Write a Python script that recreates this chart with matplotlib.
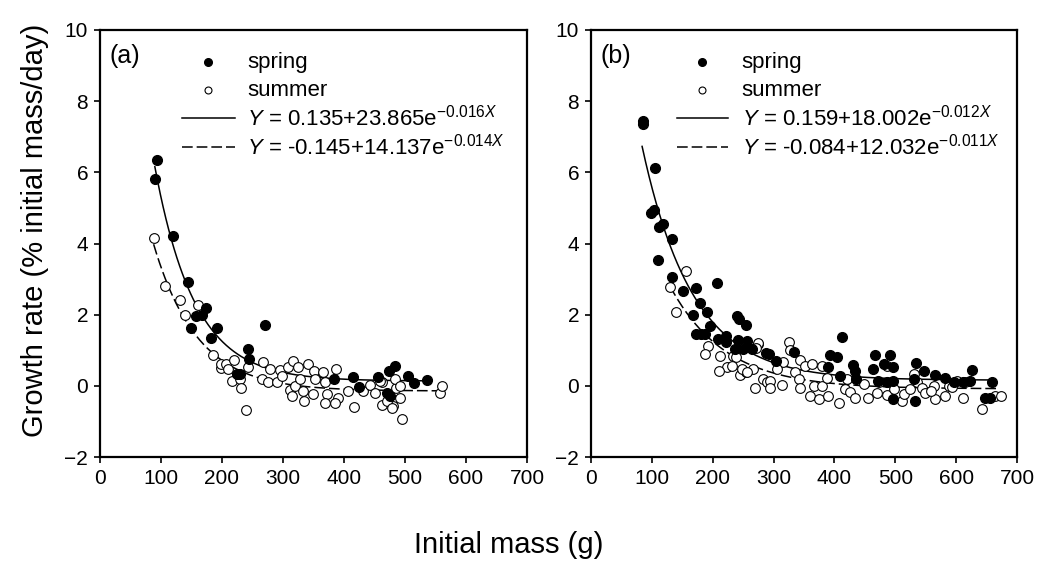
import numpy as np
import matplotlib
matplotlib.use("Agg")
import matplotlib.pyplot as plt

plt.rcParams['font.family'] = ['Liberation Sans', 'DejaVu Sans']
plt.rcParams['mathtext.fontset'] = 'custom'
plt.rcParams['mathtext.rm'] = 'Liberation Sans'
plt.rcParams['mathtext.it'] = 'Liberation Sans:italic'

# panel (a) data
a_spring_x = [93, 90, 119, 145, 174, 157, 168, 150, 192, 182, 270, 243, 245, 224, 229,
              384, 415, 425, 456, 473, 484, 470, 475, 505, 514, 536]
a_spring_y = [6.35, 5.8, 4.2, 2.91, 2.18, 1.97, 2.0, 1.62, 1.62, 1.35, 1.70, 1.03, 0.75, 0.33, 0.33,
              0.19, 0.24, -0.02, 0.24, 0.42, 0.55, -0.19, -0.28, 0.28, 0.09, 0.17]
a_summer_x = [88, 107, 132, 140, 160, 186, 199, 199, 207, 210, 220, 216, 230, 231, 239, 243,
              267, 265, 278, 276, 290, 295, 299, 308, 317, 324, 311, 314, 320, 328, 333, 334,
              341, 351, 352, 350, 366, 369, 372, 369, 387, 390, 385, 407, 416, 432, 443, 451,
              462, 463, 480, 485, 484, 492, 492, 470, 478, 495, 557, 560, 459]
a_summer_y = [4.15, 2.81, 2.42, 2.0, 2.28, 0.88, 0.49, 0.61, 0.6, 0.47, 0.73, 0.14, 0.19, -0.06, -0.68, 0.53,
              0.66, 0.18, 0.47, 0.1, 0.12, 0.45, 0.28, 0.54, 0.7, 0.54, -0.11, -0.28, 0.0, 0.19, -0.14, -0.42,
              0.61, 0.42, 0.19, -0.23, 0.38, 0.1, -0.23, -0.47, 0.47, -0.33, -0.47, -0.14, -0.59, -0.14, 0.02, -0.19,
              0.1, -0.54, -0.56, -0.05, 0.19, 0.0, -0.33, -0.42, -0.61, -0.94, -0.19, 0.0, 0.14]

# panel (b) data
b_spring_x = [85, 86, 106, 99, 104, 112, 118, 133, 110, 133, 152, 172, 207, 179, 191, 168, 196,
              173, 180, 188, 209, 222, 222, 240, 243, 255, 242, 237, 250, 265, 256, 287, 293, 304,
              333, 412, 392, 404, 390, 431, 434, 436, 467, 492, 463, 481, 497, 472, 487, 497, 497,
              534, 530, 547, 532, 566, 582, 626, 623, 612, 659, 656, 648, 596, 410]
b_spring_y = [7.43, 7.35, 6.13, 4.87, 4.94, 4.47, 4.54, 4.12, 3.54, 3.06, 2.67, 2.74, 2.88, 2.34, 2.08, 1.99, 1.69,
              1.45, 1.47, 1.45, 1.31, 1.4, 1.24, 1.97, 1.87, 1.71, 1.29, 1.03, 1.03, 1.03, 1.26, 0.91, 0.89, 0.7,
              0.96, 1.38, 0.86, 0.8, 0.52, 0.58, 0.42, 0.19, 0.86, 0.86, 0.47, 0.61, 0.52, 0.15, 0.12, 0.15, -0.37,
              0.64, 0.19, 0.42, -0.42, 0.3, 0.21, 0.45, 0.14, 0.1, 0.1, -0.33, -0.33, 0.1, 0.28]
b_summer_x = [156, 130, 140, 193, 187, 212, 234, 238, 223, 211, 231, 245, 254, 266, 270, 275, 283,
              289, 274, 271, 326, 327, 344, 248, 256, 294, 294, 314, 316, 305, 336, 341, 352, 363,
              344, 360, 374, 366, 379, 389, 379, 388, 408, 418, 426, 434, 420, 456, 448, 470, 473,
              486, 486, 498, 511, 514, 525, 531, 536, 544, 563, 566, 582, 588, 549, 558, 593, 601,
              615, 612, 643, 664, 673]
b_summer_y = [3.23, 2.79, 2.08, 1.11, 0.89, 0.84, 0.84, 0.8, 0.52, 0.42, 0.57, 0.3, 0.4, 0.47, -0.07, 1.17, 0.19,
              0.1, 1.2, 1.05, 1.22, 1.01, 0.73, 0.47, 0.39, 0.14, -0.05, 0.02, 0.67, 0.47, 0.38, 0.19, 0.56, 0.61,
              -0.05, -0.28, -0.37, 0.0, 0.56, -0.28, 0.0, 0.21, -0.47, -0.09, -0.17, -0.33, 0.19, -0.33, 0.05, -0.2, 0.1,
              0.56, -0.26, -0.09, -0.42, -0.23, -0.09, 0.33, 0.1, -0.05, 0.0, -0.37, -0.28, 0.0, -0.19, -0.14, -0.02, 0.14,
              0.1, -0.33, -0.65, -0.28, -0.28]

# fitted curves: (a, b, k, xmin, xmax)
a_fit_spring = (0.135, 23.865, 0.0153, 90, 540)
a_fit_summer = (-0.145, 14.137, 0.014, 88, 558)
b_fit_spring = (0.159, 18.002, 0.012, 84, 660)
b_fit_summer = (-0.084, 12.032, 0.011, 130, 670)

a_labels = [r'$Y$ = 0.135+23.865e$^{-0.016X}$', r'$Y$ = -0.145+14.137e$^{-0.014X}$']
b_labels = [r'$Y$ = 0.159+18.002e$^{-0.012X}$', r'$Y$ = -0.084+12.032e$^{-0.011X}$']

fig = plt.figure(figsize=(10.39, 5.69), dpi=100)
ax1 = fig.add_axes([0.0962, 0.1968, 0.411, 0.7505])
ax2 = fig.add_axes([0.5688, 0.1968, 0.41, 0.7505])

dash = (7, 2.6)


def draw_panel(ax, sx, sy, ux, uy, fs, fu, labels, tag, mx, lx0, lx1, tx):
    for fit, ls in ((fs, '-'), (fu, '--')):
        c0, c1, k, x0, x1 = fit
        xx = np.linspace(x0, x1, 300)
        line, = ax.plot(xx, c0 + c1 * np.exp(-k * xx), color='black', lw=1.1, ls=ls)
        if ls == '--':
            line.set_dashes(dash)
    ax.plot(ux, uy, 'o', ms=7, mfc='white', mec='black', mew=0.8, ls='none')
    ax.plot(sx, sy, 'o', ms=7, mfc='black', mec='black', ls='none')

    ax.set_xlim(0, 700)
    ax.set_ylim(-2, 10)
    ax.set_xticks(range(0, 701, 100))
    ax.set_yticks(range(-2, 11, 2))
    ax.tick_params(direction='out', length=4.5, width=1.2, labelsize=15, top=False, right=False, pad=4)
    for sp in ax.spines.values():
        sp.set_linewidth(1.6)

    ax.text(0.023, 0.94, tag, transform=ax.transAxes, fontsize=18, va='center', ha='left')

    rows = [0.925, 0.859, 0.794, 0.726]
    ax.plot([mx], [rows[0]], 'o', ms=5.5, color='black', transform=ax.transAxes, clip_on=False)
    ax.plot([mx], [rows[1]], 'o', ms=5, mfc='white', mec='black', mew=0.8,
            transform=ax.transAxes, clip_on=False)
    ax.plot([lx0, lx1], [rows[2]] * 2, color='black', lw=1.1, transform=ax.transAxes, clip_on=False)
    l2, = ax.plot([lx0, lx1], [rows[3]] * 2, color='black', lw=1.1, ls='--',
                  transform=ax.transAxes, clip_on=False)
    l2.set_dashes(dash)
    for r, t in zip(rows, ['spring', 'summer'] + labels):
        ax.text(tx, r, t, transform=ax.transAxes, fontsize=16, va='center', ha='left')


draw_panel(ax1, a_spring_x, a_spring_y, a_summer_x, a_summer_y, a_fit_spring, a_fit_summer,
           a_labels, '(a)', 0.253, 0.192, 0.316, 0.344)
draw_panel(ax2, b_spring_x, b_spring_y, b_summer_x, b_summer_y, b_fit_spring, b_fit_summer,
           b_labels, '(b)', 0.26, 0.202, 0.322, 0.354)

fig.text(0.034, 0.595, 'Growth rate (% initial mass/day)', rotation=90, fontsize=21,
         ha='center', va='center')
fig.text(0.49, 0.042, 'Initial mass (g)', fontsize=21, ha='center', va='center')

fig.savefig('out.png', dpi=100)
